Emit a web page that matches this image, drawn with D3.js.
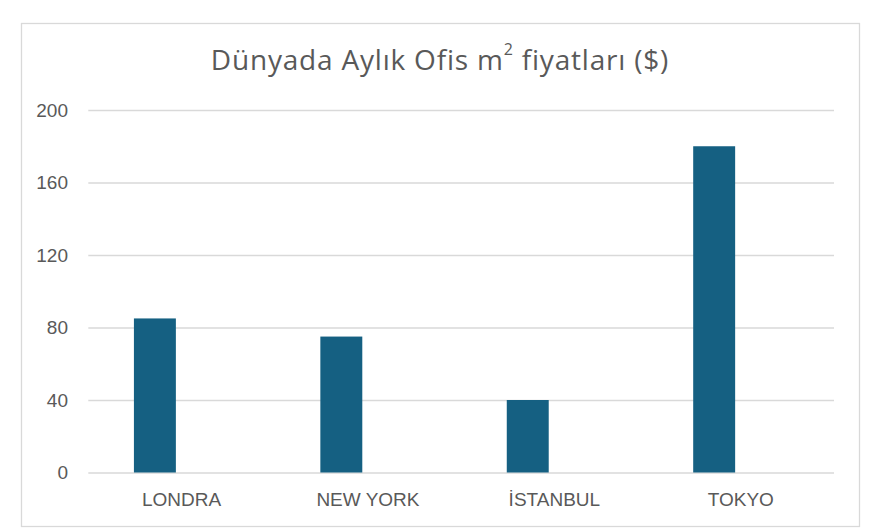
<!DOCTYPE html>
<html>
<head>
<meta charset="utf-8">
<script src="https://cdn.jsdelivr.net/npm/d3@7"></script>
<style>
  html, body { margin: 0; padding: 0; background: #fff; }
  svg { display: block; }
  text { font-family: "Open Sans", "Liberation Sans", Arial, sans-serif; fill: #595959; }
</style>
</head>
<body>
<svg id="chart" width="871" height="532"></svg>
<script>
const categories = ["LONDRA", "NEW YORK", "İSTANBUL", "TOKYO"];
const seriesNames = ["Fiyat", "(boş)"];
const values = [85, 75, 40, 180];
const yTicks = [0, 40, 80, 120, 160, 200];
const titleMain = "Dünyada Aylık Ofis m";
const titleSup = "2";
const titleEnd = " fiyatları ($)";

const svg = d3.select("#chart");
const W = 871, H = 532;
const margin = { left: 88.3, right: 871 - 834, top: 110, bottom: 532 - 472.5 };
const AXFONT = "'Liberation Sans', Arial, sans-serif";

svg.append("rect")
  .attr("x", 21.5).attr("y", 23.5)
  .attr("width", 838).attr("height", 503)
  .attr("fill", "#fff").attr("stroke", "#d9d9d9").attr("stroke-width", 1.3);

const x0 = d3.scaleBand().domain(categories)
  .range([margin.left, W - margin.right]).padding(0);
const x1 = d3.scaleBand().domain(seriesNames)
  .range([0, x0.bandwidth()]).paddingInner(0.212).paddingOuter(0.857);
const y = d3.scaleLinear().domain([0, 200]).range([H - margin.bottom, margin.top]);

// gridlines
const grid = svg.append("g")
  .attr("transform", `translate(${margin.left},0)`)
  .call(d3.axisLeft(y).tickValues(yTicks).tickSize(-(W - margin.right - margin.left)).tickFormat(""));
grid.select(".domain").remove();
grid.selectAll("line").attr("stroke", "#d9d9d9").attr("stroke-width", 1.6);

// y labels
const yAx = svg.append("g")
  .attr("transform", `translate(68,0)`)
  .call(d3.axisLeft(y).tickValues(yTicks).tickSize(0).tickPadding(0));
yAx.select(".domain").remove();
yAx.selectAll("text").style("font-size", "19px").attr("fill", "#595959")
  .style("font-family", AXFONT);

// bars
svg.append("g").selectAll("rect")
  .data(categories.map((c, i) => ({ c, v: values[i] })))
  .join("rect")
  .attr("x", d => x0(d.c) + x1(seriesNames[0]))
  .attr("width", x1.bandwidth())
  .attr("y", d => y(d.v))
  .attr("height", d => y(0) - y(d.v))
  .attr("fill", "#156082");

// x labels
const xAx = svg.append("g")
  .attr("transform", `translate(0,${y(0) + 20})`)
  .call(d3.axisBottom(x0).tickSize(0).tickPadding(0));
xAx.select(".domain").remove();
xAx.selectAll("text").style("font-size", "19px").attr("fill", "#595959")
  .style("font-family", AXFONT);

// title
const t = svg.append("text")
  .attr("x", 440).attr("y", 70)
  .attr("text-anchor", "middle")
  .style("font-size", "28px")
  .style("letter-spacing", "0.8px");
t.append("tspan").text(titleMain);
t.append("tspan").attr("dy", -15).style("font-size", "16px").text(titleSup);
t.append("tspan").attr("dy", 15).text(titleEnd);
</script>
</body>
</html>
